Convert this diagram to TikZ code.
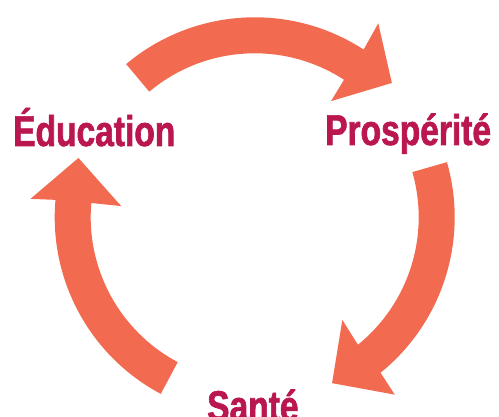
\documentclass[tikz,border=0pt]{standalone}
\usepackage{fontspec}
\newfontfamily\labfont[FakeStretch=0.78,FakeBold=1.5]{Liberation Sans}
\usetikzlibrary{calc}
\definecolor{arrowcol}{HTML}{F26A50}
\definecolor{labcol}{HTML}{BA1650}
\begin{document}
\begin{tikzpicture}[x=1pt,y=1pt,
  lab/.style={inner sep=0pt, anchor=base west, text=labcol, font=\labfont\bfseries\fontsize{43}{43}\selectfont},
  arr/.style={fill=arrowcol}]
\useasboundingbox (0,0) rectangle (499,417);
\clip (0,0) rectangle (499,417);
\coordinate (c) at (254.7,199.7);
% top arrow
\fill[arr] ($(c)+(130:200)$) arc[start angle=130, end angle=57, radius=200]
  -- ($(c)+(57.5:230)$) -- ($(c)+(44.4:192)$) -- ($(c)+(56.7:139)$)
  -- ($(c)+(57:164)$) arc[start angle=57, end angle=130, radius=164] -- cycle;
% right arrow
\fill[arr] ($(c)+(16:200)$) arc[start angle=16, end angle=-51, radius=200]
  -- ($(c)+(-51.7:226)$) -- ($(c)+(-65:183)$) -- ($(c)+(-49.5:135)$)
  -- ($(c)+(-51:164)$) arc[start angle=-51, end angle=16, radius=164] -- cycle;
% left arrow
\fill[arr] ($(c)+(242:200)$) arc[start angle=242, end angle=175, radius=200]
  -- ($(c)+(175.3:225)$) -- ($(c)+(161.4:186)$) -- ($(c)+(175.2:134)$)
  -- ($(c)+(175:164)$) arc[start angle=175, end angle=242, radius=164] -- cycle;
\node[lab] (edu) at (13,271) {Éducation};
\node[lab] (pros) at (325,272) {Prospérité};
\node[lab] (sante) at (207,-4) {Santé};
\end{tikzpicture}
\end{document}
